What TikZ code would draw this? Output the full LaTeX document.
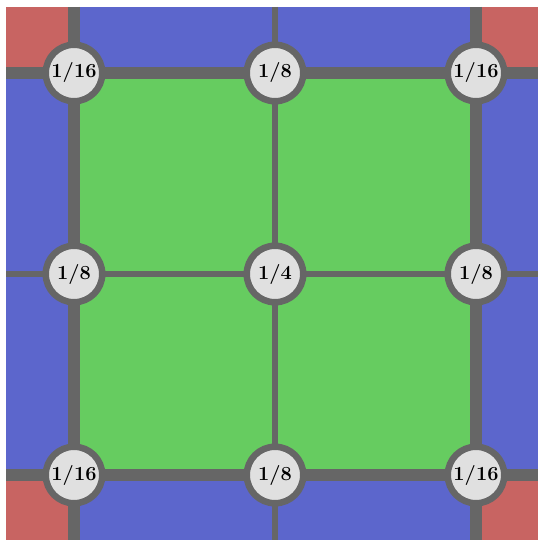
\documentclass[tikz,border=0pt]{standalone}
\usepackage{xcolor}
\usepackage{tikz}
\usetikzlibrary{positioning}

\definecolor{cornerred}{RGB}{200,100,98}
\definecolor{edgeblue}{RGB}{92,102,204}
\definecolor{innergreen}{RGB}{102,204,96}
\definecolor{gridgray}{RGB}{102,102,102}
\definecolor{nodegray}{RGB}{224,224,224}

\begin{document}
\begin{tikzpicture}[x=1pt, y=-1pt,
    border/.style={draw=gridgray, line width=12pt},
    midline/.style={draw=gridgray, line width=5.5pt},
    weight/.style={circle, draw=gridgray, fill=nodegray, line width=6.5pt, minimum size=56.5pt, inner sep=0pt, font=\fontsize{20}{24}\selectfont\bfseries}
  ]
    \useasboundingbox[fill=white] (0,0) rectangle (538,540);
    % cells
    \fill[edgeblue] (6,7) rectangle (538,540);
    \fill[cornerred] (6,7) rectangle (74,73);
    \fill[cornerred] (476,7) rectangle (538,73);
    \fill[cornerred] (6,475) rectangle (74,540);
    \fill[cornerred] (476,475) rectangle (538,540);
    \fill[innergreen] (74,73) rectangle (476,475);
    % grid ends
    \coordinate (top0) at (74,7);
    \coordinate (top1) at (275,7);
    \coordinate (top2) at (476,7);
    \coordinate (bot0) at (74,540);
    \coordinate (bot1) at (275,540);
    \coordinate (bot2) at (476,540);
    \coordinate (lft0) at (6,73);
    \coordinate (lft1) at (6,274);
    \coordinate (lft2) at (6,475);
    \coordinate (rgt0) at (538,73);
    \coordinate (rgt1) at (538,274);
    \coordinate (rgt2) at (538,475);
    \draw[midline] (top1) -- (bot1);
    \draw[midline] (lft1) -- (rgt1);
    \draw[border] (top0) -- (bot0);
    \draw[border] (top2) -- (bot2);
    \draw[border] (lft0) -- (rgt0);
    \draw[border] (lft2) -- (rgt2);
    % weights
    \node[weight] (w00) at (74,73) {1/16};
    \node[weight] (w01) at (275,73) {1/8};
    \node[weight] (w02) at (476,73) {1/16};
    \node[weight] (w10) at (74,274) {1/8};
    \node[weight] (w11) at (275,274) {1/4};
    \node[weight] (w12) at (476,274) {1/8};
    \node[weight] (w20) at (74,475) {1/16};
    \node[weight] (w21) at (275,475) {1/8};
    \node[weight] (w22) at (476,475) {1/16};
  \end{tikzpicture}
\end{document}
